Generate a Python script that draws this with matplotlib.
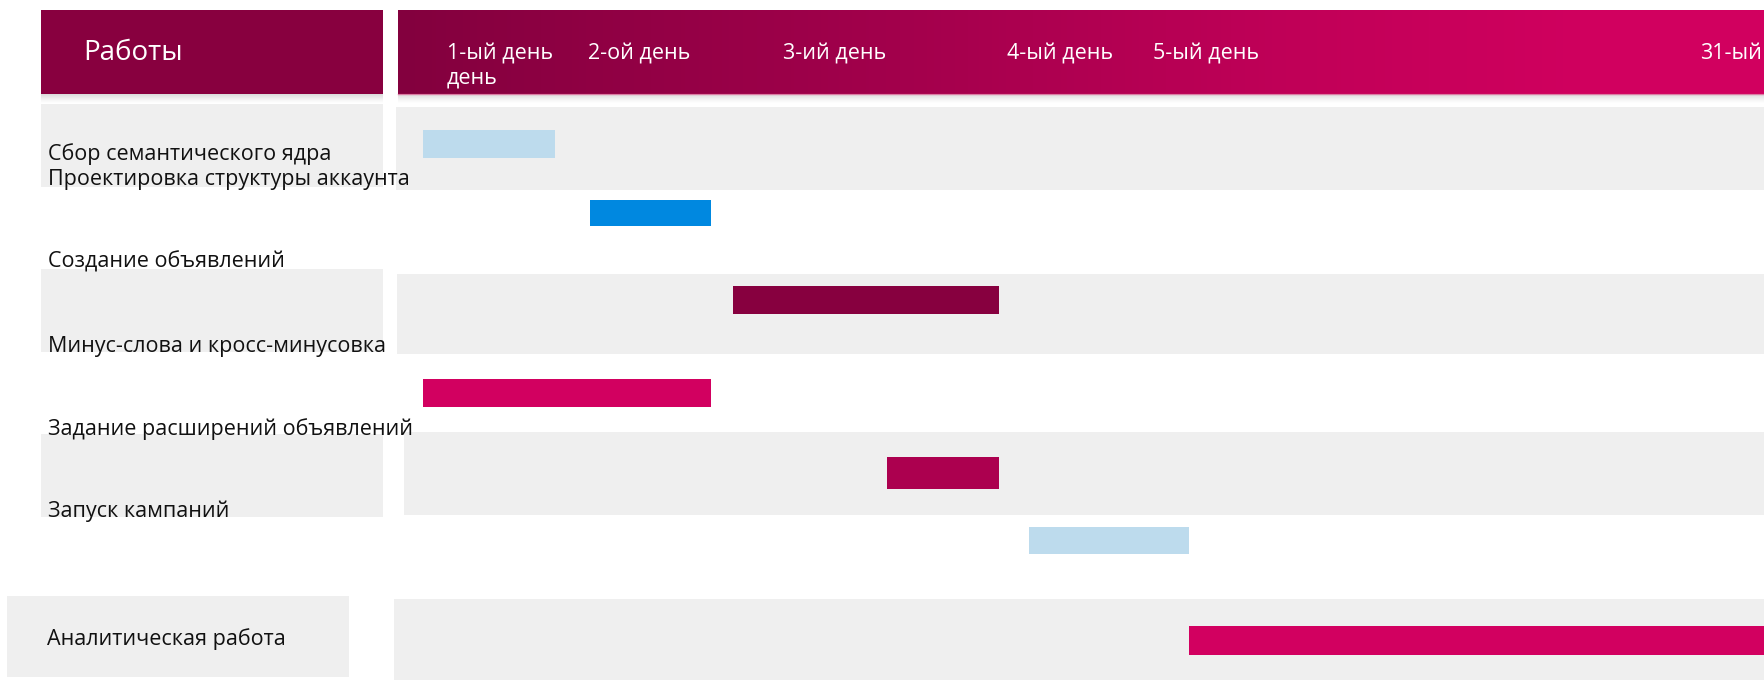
import matplotlib.pyplot as plt
import numpy as np
from matplotlib.colors import to_rgb
from matplotlib.patches import Rectangle

plt.rcParams['font.family'] = ['Open Sans', 'DejaVu Sans']

# works and their time spans (% of the timeline width)
tasks = ['Сбор семантического ядра', 'Проектировка структуры аккаунта',
         'Создание объявлений', 'Минус-слова и кросс-минусовка',
         'Задание расширений объявлений', 'Запуск кампаний',
         'Аналитическая работа']
starts = [2.0, 14.2, 24.6, 2.0, 35.9, 46.3, 58.0]
ends = [11.6, 23.0, 44.1, 23.0, 44.1, 58.0, 100.0]
bar_colors = ['#bddbed', '#0088e0', '#87003f', '#d20060', '#ac004f', '#bddbed', '#d20060']

day_labels = ['1-ый день\nдень', '2-ой день', '3-ий день', '4-ый день', '5-ый день', '31-ый']
day_pos = [3.7, 14.0, 28.3, 44.7, 55.3, 95.3]

# layout (pixels of the 1764x680 picture)
W, H = 1764, 680
TL_X0 = 396
bar_rows = [(130, 158), (200, 226), (286, 314), (379, 407), (457, 489), (527, 554), (626, 655)]
label_base = [160, 185, 268, 352, 435, 517, 645]
label_x = [48, 48, 48, 48, 48, 48, 47]
right_bands = [(396, 107, 190), (397, 274, 354), (404, 432, 515), (394, 599, 680)]
left_cells = [(41, 383, 104, 187), (41, 383, 269, 352), (41, 383, 434, 517), (7, 349, 596, 677)]
GRAY = '#efefef'

fig = plt.figure(figsize=(W / 100, H / 100), dpi=100)
bg = fig.add_axes([0, 0, 1, 1])
bg.set_xlim(0, W)
bg.set_ylim(H, 0)
bg.axis('off')

# gray row bands
for x0, t, b in right_bands:
    bg.add_patch(Rectangle((x0, t), W - x0, b - t, color=GRAY, lw=0))
for x0, x1, t, b in left_cells:
    bg.add_patch(Rectangle((x0, t), x1 - x0, b - t, color=GRAY, lw=0))

# header shadow
sh = np.zeros((10, 2, 4))
sh[..., 3] = np.linspace(0.22, 0, 10)[:, None] ** 1.3
bg.imshow(sh, extent=(41, 383, 104, 94), aspect='auto', zorder=2)
bg.imshow(sh, extent=(398, W, 104, 94), aspect='auto', zorder=2)

# header boxes
bg.add_patch(Rectangle((41, 10), 342, 84, color='#88003f', lw=0, zorder=3))
xs = np.linspace(398, W, 400)
stops_x = [398, 900, 1300, 1600, W]
stops_c = np.array([to_rgb(c) for c in ['#83003e', '#a3004c', '#c10058', '#d1005f', '#d20060']])
grad = np.stack([np.interp(xs, stops_x, stops_c[:, k]) for k in range(3)], axis=-1)[None, :, :]
bg.imshow(grad, extent=(398, W, 94, 10), aspect='auto', zorder=3)
bg.plot([398, W], [93.5, 93.5], color='#d9407f', lw=1, alpha=0.6, zorder=4)
bg.text(83, 60, 'Работы', color='white', fontsize=20, va='baseline', zorder=5)

# task labels
for name, x, yb in zip(tasks, label_x, label_base):
    bg.text(x, yb, name, fontsize=15.5, color='#111111', va='baseline', zorder=5)

# timeline
tl = fig.add_axes([TL_X0 / W, 0, 1 - TL_X0 / W, 1], zorder=2)
tl.patch.set_alpha(0)
tl.set_xlim(0, 100)
tl.set_ylim(H, 0)
tl.axis('off')

for s, e, c, (t, b) in zip(starts, ends, bar_colors, bar_rows):
    tl.barh((t + b) / 2, e - s, left=s, height=b - t, color=c, lw=0)

# day headers, wrapped lines go below the first one
for lab, p in zip(day_labels, day_pos):
    for i, line in enumerate(lab.split('\n')):
        tl.text(p, 59 + 24 * i, line, color='white', fontsize=15.5,
                va='baseline', clip_on=False)

fig.savefig('out.png', dpi=100)
